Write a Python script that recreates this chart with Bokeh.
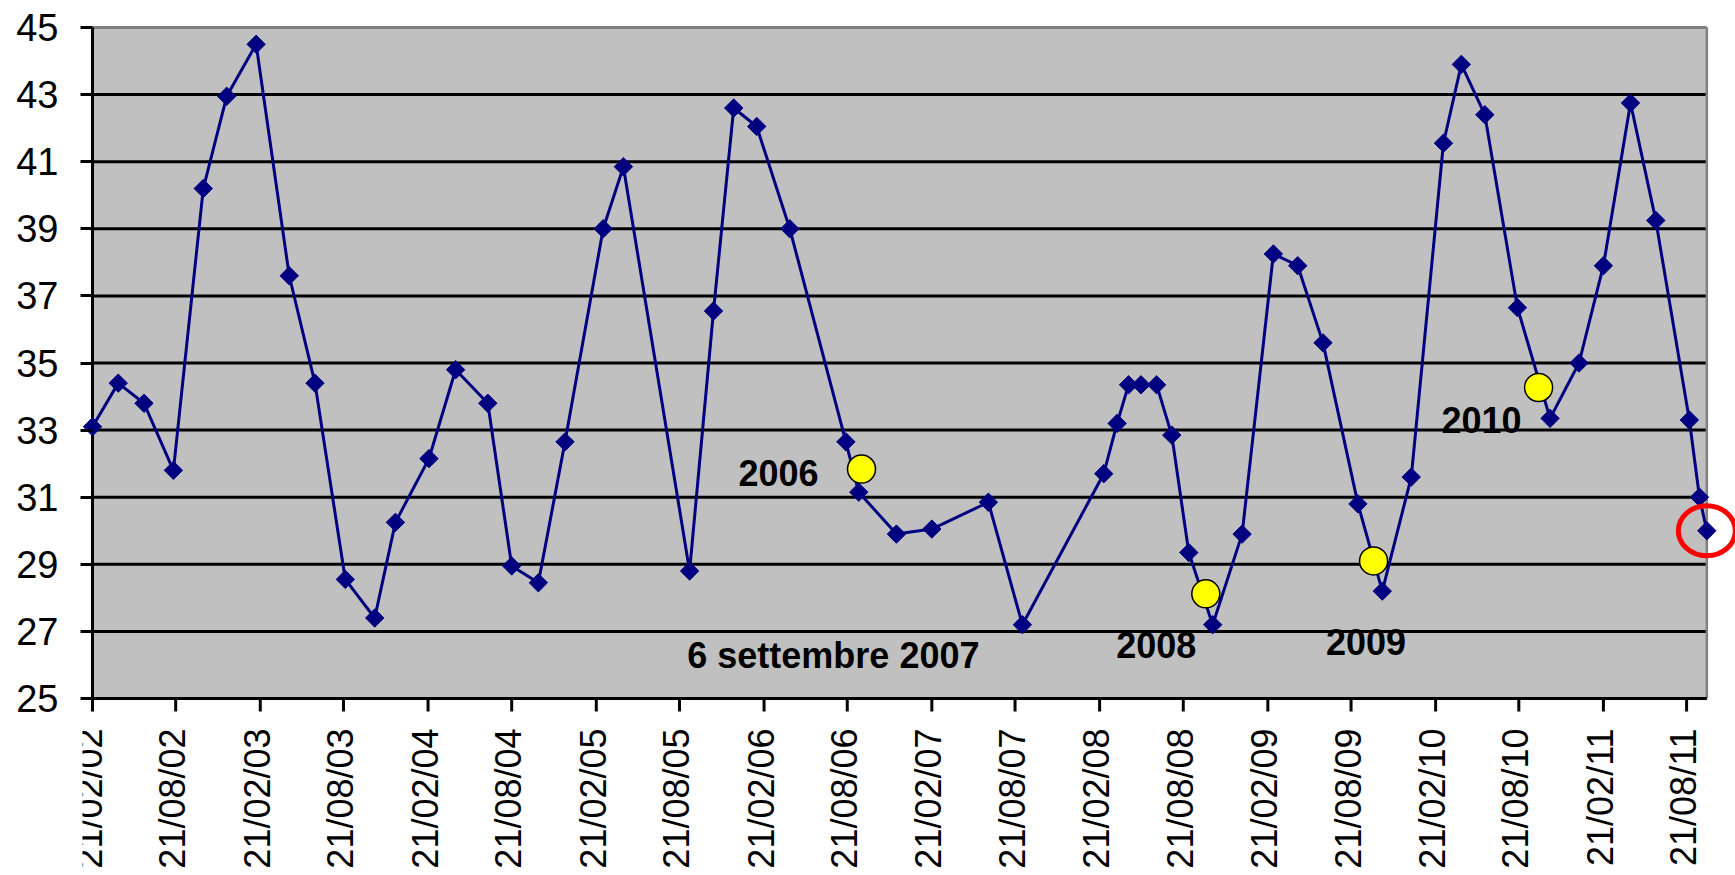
import math
import numpy as np
from bokeh.plotting import figure
from bokeh.models import Range1d, FixedTicker
from bokeh.embed import file_html
from bokeh.resources import INLINE
from bokeh.core.properties import value

# ---------------- data ----------------
dates = [
    "2002-02-21", "2002-04-18", "2002-06-13", "2002-08-16", "2002-10-20", "2002-12-10",
    "2003-02-12", "2003-04-25", "2003-06-20", "2003-08-25", "2003-10-28", "2003-12-12",
    "2004-02-23", "2004-04-21", "2004-06-30", "2004-08-21", "2004-10-18", "2004-12-15",
    "2005-03-08", "2005-04-21", "2005-09-12", "2005-11-03", "2005-12-17",
    "2006-02-05", "2006-04-18", "2006-08-18", "2006-09-15", "2006-12-06",
    "2007-02-21", "2007-06-24", "2007-09-06",
    "2008-03-01", "2008-03-30", "2008-04-24", "2008-05-21", "2008-06-24", "2008-07-27",
    "2008-09-02", "2008-10-24", "2008-12-27",
    "2009-03-05", "2009-04-27", "2009-06-21", "2009-09-05", "2009-10-28", "2009-12-30",
    "2010-03-10", "2010-04-18", "2010-06-08", "2010-08-18", "2010-10-28", "2010-12-30",
    "2011-02-21", "2011-04-21", "2011-06-15", "2011-08-27", "2011-09-18", "2011-10-04",
]
values = [
    33.1, 34.4, 33.8, 31.8, 40.2, 42.95,
    44.5, 37.6, 34.4, 28.55, 27.4, 30.25,
    32.15, 34.8, 33.8, 28.95, 28.45, 32.65,
    39.0, 40.85, 28.8, 36.55, 42.6,
    42.05, 39.0, 32.65, 31.15, 29.9,
    30.05, 30.85, 27.2,
    31.7, 33.2, 34.35, 34.35, 34.35, 32.85,
    29.35, 27.2, 29.9,
    38.25, 37.9, 35.6, 30.8, 28.2, 31.6,
    41.55, 43.9, 42.4, 36.65, 33.35, 35.0,
    37.9, 42.75, 39.25, 33.3, 31.0, 30.0,
]

tick_labels = [
    "21/02/02", "21/08/02", "21/02/03", "21/08/03", "21/02/04", "21/08/04",
    "21/02/05", "21/08/05", "21/02/06", "21/08/06", "21/02/07", "21/08/07",
    "21/02/08", "21/08/08", "21/02/09", "21/08/09", "21/02/10", "21/08/10",
    "21/02/11", "21/08/11",
]
y_ticks = [25, 27, 29, 31, 33, 35, 37, 39, 41, 43, 45]

note_dates = ["2006-09-21", "2008-10-09", "2009-10-09", "2010-10-03"]
note_values = [31.84, 28.12, 29.1, 34.27]
note_labels = ["2006", "2008", "2009", "2010"]

event_date = "2007-09-06"
event_label = "6 settembre 2007"

# ---------------- helpers ----------------
def to_ms(s):
    return float(np.datetime64(s, "ms").astype("int64"))

def tick_to_iso(t):
    d, m, y = t.split("/")
    return f"20{y}-{m}-{d}"

xs = [to_ms(d) for d in dates]
tick_x = [to_ms(tick_to_iso(t)) for t in tick_labels]
note_x = [to_ms(d) for d in note_dates]
event_x = to_ms(event_date)
event_y = values[dates.index(event_date)]

# ---------------- layout constants ----------------
W, H = 1735, 875
X0 = 92          # figure x of first date
PAD_L = 10
Y45 = 27         # figure y of top value
PAD_T = 3
PX_DAY = 0.45966
PX_UNIT = 33.55
DAY = 86400000.0

y_min, y_max = min(y_ticks), max(y_ticks)
x_first = tick_x[0]
x_last = max(xs)

xr = Range1d(x_first - PAD_L / PX_DAY * DAY, x_first + (W - X0) / PX_DAY * DAY)
yr = Range1d(y_max - (H - Y45) / PX_UNIT, y_max + PAD_T / PX_UNIT)

p = figure(width=W, height=H, x_range=xr, y_range=yr, x_axis_location=None,
           toolbar_location=None, output_backend="svg",
           min_border_left=X0 - PAD_L, min_border_top=Y45 - PAD_T,
           min_border_right=0, min_border_bottom=0)
p.background_fill_color = "white"
p.border_fill_color = "white"
p.outline_line_color = None
p.grid.visible = False

# plot area
p.quad(left=[x_first], right=[x_last], bottom=[y_min], top=[y_max],
       fill_color="#C0C0C0", line_color=None)
gy = y_ticks[1:-1]
p.segment(x0=[x_first] * len(gy), y0=gy, x1=[x_last] * len(gy), y1=gy,
          line_color="black", line_width=3)
p.segment(x0=[x_first], y0=[y_max], x1=[x_last], y1=[y_max], line_color="#808080", line_width=3)
p.segment(x0=[x_last], y0=[y_min], x1=[x_last], y1=[y_max], line_color="#808080", line_width=2.5)

# axis lines
p.segment(x0=[x_first], y0=[y_min], x1=[x_first], y1=[y_max], line_color="black", line_width=3)
p.segment(x0=[x_first], y0=[y_min], x1=[x_last], y1=[y_min], line_color="black", line_width=3)

# x ticks and labels
p.segment(x0=tick_x, y0=[y_min] * len(tick_x), x1=tick_x,
          y1=[y_min - 13 / PX_UNIT] * len(tick_x), line_color="black", line_width=3)
p.text(x=tick_x, y=[y_min] * len(tick_x), text=tick_labels, angle=math.pi / 2,
       text_align="right", text_baseline="middle", y_offset=30, x_offset=-3,
       text_font=value("Liberation Sans"), text_font_size="36px", text_color="black")

# series
p.line(xs, values, line_color="#000080", line_width=3)
p.scatter(xs, values, marker="square", angle=math.pi / 4, size=13,
          fill_color="#000080", line_color="#000080")

# annotations
p.scatter(note_x, note_values, size=28, fill_color="#FFFF00", line_color="black", line_width=1.5)
p.text(x=note_x, y=note_values, text=note_labels,
       x_offset=[-83, -49.5, -7.6, -57], y_offset=[4, 51, 81, 33],
       text_align="center", text_baseline="alphabetic",
       text_font=value("Liberation Sans"), text_font_size="36px",
       text_font_style="bold", text_color="black")
p.text(x=[event_x], y=[event_y], text=[event_label], x_offset=-189, y_offset=31,
       text_align="center", text_baseline="alphabetic",
       text_font=value("Liberation Sans"), text_font_size="36px",
       text_font_style="bold", text_color="black")

p.ellipse(x=[xs[-1]], y=[values[-1]], width=57, height=50,
          width_units="screen", height_units="screen",
          fill_color=None, line_color="#FF0000", line_width=5)

# y axis
p.yaxis.ticker = FixedTicker(ticks=y_ticks)
p.yaxis.axis_line_color = None
p.yaxis.major_tick_out = 2
p.yaxis.major_tick_in = 10
p.yaxis.major_tick_line_width = 3
p.yaxis.major_tick_line_color = "black"
p.yaxis.minor_tick_line_color = None
p.yaxis.major_label_standoff = 22
p.yaxis.major_label_text_font = "Liberation Sans"
p.yaxis.major_label_text_font_size = "38px"
p.yaxis.major_label_text_color = "black"

open("out.html", "w").write(file_html(p, INLINE))
